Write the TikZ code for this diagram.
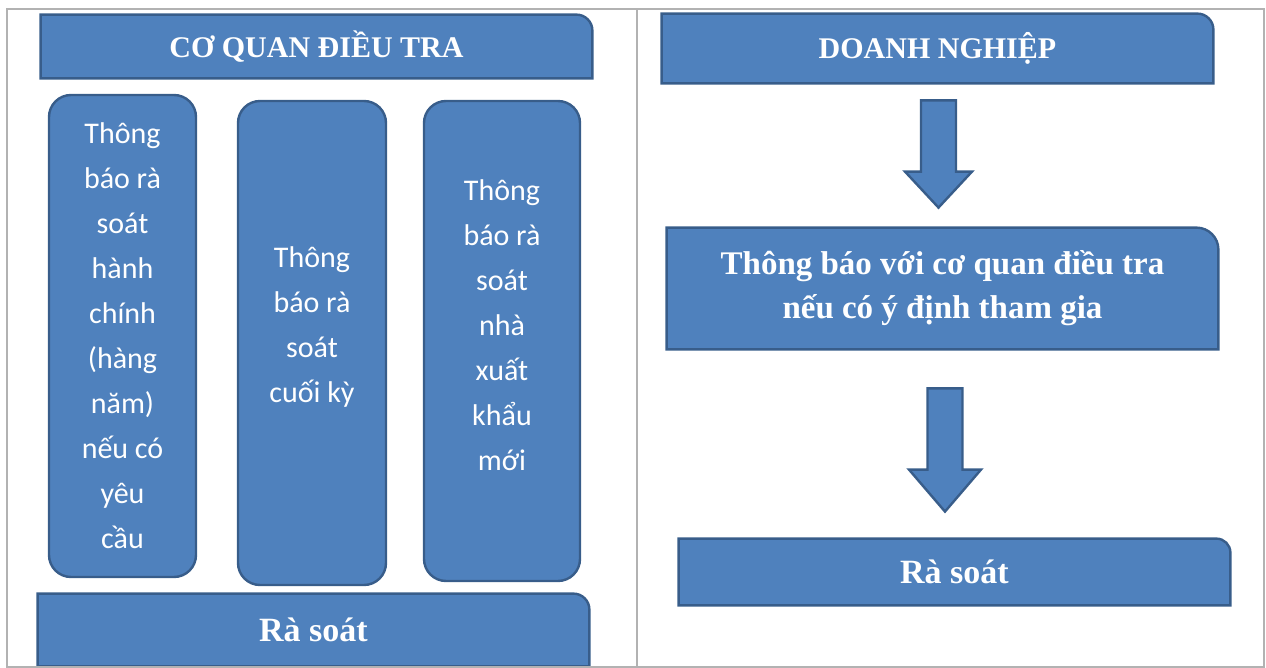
\documentclass[tikz,border=0pt]{standalone}
\usepackage{fontspec}
\setmainfont{Liberation Serif}
\newfontfamily\colfont{Carlito}
\usepackage{tikz}
\usetikzlibrary{calc,backgrounds}

\definecolor{boxblue}{HTML}{4F81BD}
\definecolor{boxedge}{HTML}{385D8A}

\tikzset{
  boxline/.style={fill=boxblue, draw=boxedge, line width=1.2pt},
  hdr/.style={minimum width=275.5pt, inner sep=0pt, text=white, align=center,
    font=\bfseries\fontsize{15}{18}\selectfont},
  col/.style={boxline, rounded corners=11pt, inner sep=0pt},
  coltext/.style={inner sep=0pt, text=white, align=center,
    font=\colfont\fontsize{15}{22.5}\selectfont},
}

% box with one round corner (top right), drawn behind the node
\newcommand{\cornerbox}[2][8pt]{%
  \path[boxline] (#2.south west) -- (#2.north west) -- ([xshift=-#1]#2.north east)
    arc[start angle=90, end angle=0, radius=#1] -- (#2.south east) -- cycle;}

% block arrow pointing down: start, end, half head width, head length
\newcommand{\blockarrow}[4]{%
  \path[boxline] let \p1=(#1), \p2=(#2) in
    (\x1-8.75pt,\y1) -- (\x1+8.75pt,\y1) -- (\x1+8.75pt,\y2+#4) -- (\x1+#3,\y2+#4)
    -- (\x1,\y2) -- (\x1-#3,\y2+#4) -- (\x1-8.75pt,\y2+#4) -- cycle;}

\begin{document}
\begin{tikzpicture}[x=0.5pt, y=-0.5pt]
    \useasboundingbox (0,0) rectangle (1266,668);
    \draw[gray!60, line width=1pt] (7,9) rectangle (1264,667);
    \draw[gray!60, line width=1pt] (637,9) -- (637,667);

    % Co quan dieu tra
    \node[hdr, minimum height=31.5pt] (cq) at (316.5,46.5) {CƠ QUAN ĐIỀU TRA};
    \node[col, minimum width=73.5pt, minimum height=241pt,
        label={[coltext]center:{Thông\\báo rà\\soát\\hành\\chính\\(hàng\\năm)\\nếu có\\yêu\\cầu}}]
        (hc) at (122.5,336) {};
    \node[col, minimum width=74pt, minimum height=242pt,
        label={[coltext, yshift=8pt]center:{Thông\\báo rà\\soát\\cuối kỳ}}]
        (ck) at (312,343) {};
    \node[col, minimum width=78pt, minimum height=240pt,
        label={[coltext, yshift=8pt]center:{Thông\\báo rà\\soát\\nhà\\xuất\\khẩu\\mới}}]
        (xk) at (502,341) {};
    \node[hdr, minimum height=36pt, font=\bfseries\fontsize{17}{20}\selectfont] (rsl) at (313.5,630) {Rà soát};

    % Doanh nghiep
    \node[hdr, minimum height=34.5pt] (dn) at (937.5,48.5) {DOANH NGHIỆP};
    \node[hdr, minimum height=60.5pt, font=\bfseries\fontsize{16.5}{22}\selectfont] (tb) at (942.5,288.5)
        {Thông báo với cơ quan điều tra\\nếu có ý định tham gia};
    \node[hdr, minimum height=33pt, font=\bfseries\fontsize{17}{20}\selectfont] (rsr) at (954.5,572) {Rà soát};

    \begin{scope}[on background layer]
        \cornerbox{cq}
        \cornerbox{rsl}
        \cornerbox{dn}
        \cornerbox[11pt]{tb}
        \cornerbox[7pt]{rsr}
    \end{scope}

    \coordinate (a1s) at ($(dn.south)+(0.5pt,-8.5pt)$);
    \coordinate (a1e) at ($(tb.north)+(-2pt,10pt)$);
    \coordinate (a2s) at ($(tb.south)+(1.25pt,-19.5pt)$);
    \coordinate (a2e) at ($(rsr.north)+(-4.75pt,13.5pt)$);
    \blockarrow{a1s}{a1e}{16.75pt}{18pt}
    \blockarrow{a2s}{a2e}{18pt}{21pt}
\end{tikzpicture}
\end{document}
